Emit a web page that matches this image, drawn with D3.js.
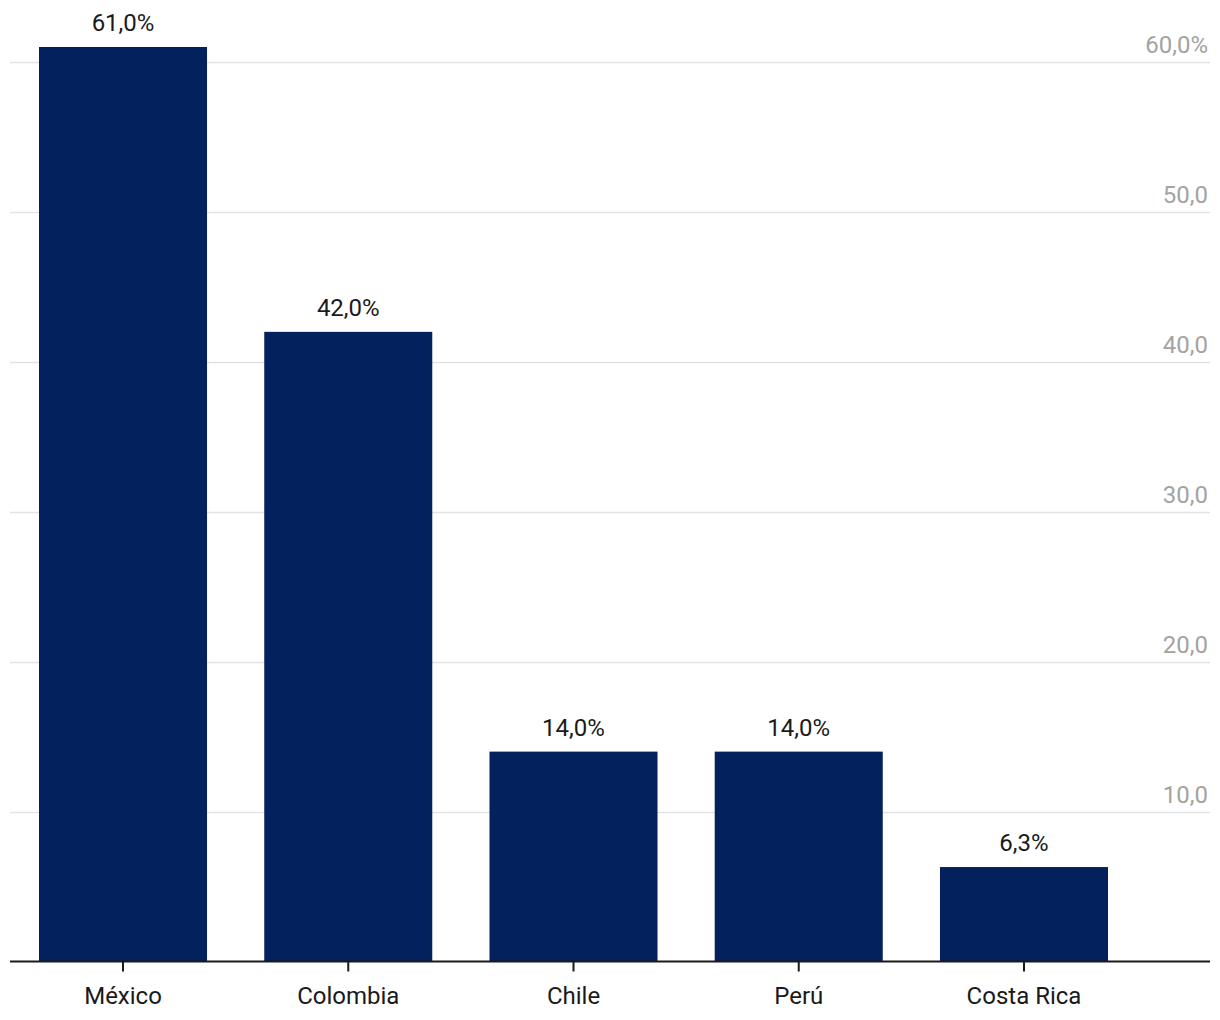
<!DOCTYPE html>
<html><head><meta charset="utf-8">
<script src="https://cdn.jsdelivr.net/npm/d3@7"></script>
<style>body{margin:0;background:#fff}svg{display:block}text{font-family:Roboto,"Noto Sans",sans-serif}</style>
</head><body><svg id="c" width="1220" height="1020"></svg>
<script>
const categories = ["México","Colombia","Chile","Perú","Costa Rica"];
const values = [61.0, 42.0, 14.0, 14.0, 6.3];
const valueLabels = ["61,0%","42,0%","14,0%","14,0%","6,3%"];
const yTicks = [10,20,30,40,50,60];
const yTickLabels = ["10,0","20,0","30,0","40,0","50,0","60,0%"];

const svg = d3.select("#c");
const left = 10, right = 1210, base = 961.5, top0 = 62;
const y = d3.scaleLinear().domain([0,60]).range([base, top0]);
const x = d3.scaleBand().domain(categories).range([10.4, 1136.6]).paddingInner(0.254).paddingOuter(0.127);

// gridlines
svg.append("g").selectAll("line").data(yTicks).join("line")
  .attr("x1", left).attr("x2", right)
  .attr("y1", d=>Math.round(y(d))+0.5).attr("y2", d=>Math.round(y(d))+0.5)
  .attr("stroke","#e2e2e2").attr("stroke-width",1.5);
svg.append("g").selectAll("text").data(yTicks).join("text")
  .attr("x", 1208).attr("y", d=>y(d)-9).attr("text-anchor","end")
  .attr("font-size",24).attr("fill","#a3a3a3")
  .text((d,i)=>yTickLabels[i]);

// bars
svg.append("g").selectAll("rect").data(values).join("rect")
  .attr("x",(d,i)=>x(categories[i])).attr("width",x.bandwidth())
  .attr("y",d=>y(d)).attr("height",d=>base-y(d))
  .attr("fill","#03215d");

svg.append("g").selectAll("text").data(values).join("text")
  .attr("x",(d,i)=>x(categories[i])+x.bandwidth()/2).attr("y",d=>y(d)-16)
  .attr("text-anchor","middle").attr("font-size",24).attr("fill","#1a1a1a")
  .text((d,i)=>valueLabels[i]);

// x axis
const xa = svg.append("g").attr("transform",`translate(0,${base})`);
xa.append("line").attr("x1",left).attr("x2",right).attr("stroke","#1a1a1a").attr("stroke-width",2);
xa.selectAll("line.t").data(categories).join("line").attr("class","t")
  .attr("x1",d=>x(d)+x.bandwidth()/2).attr("x2",d=>x(d)+x.bandwidth()/2)
  .attr("y1",0).attr("y2",10).attr("stroke","#1a1a1a").attr("stroke-width",2);
xa.selectAll("text").data(categories).join("text")
  .attr("x",d=>x(d)+x.bandwidth()/2).attr("y",42)
  .attr("text-anchor","middle").attr("font-size",24).attr("fill","#1a1a1a")
  .text(d=>d);
</script></body></html>
